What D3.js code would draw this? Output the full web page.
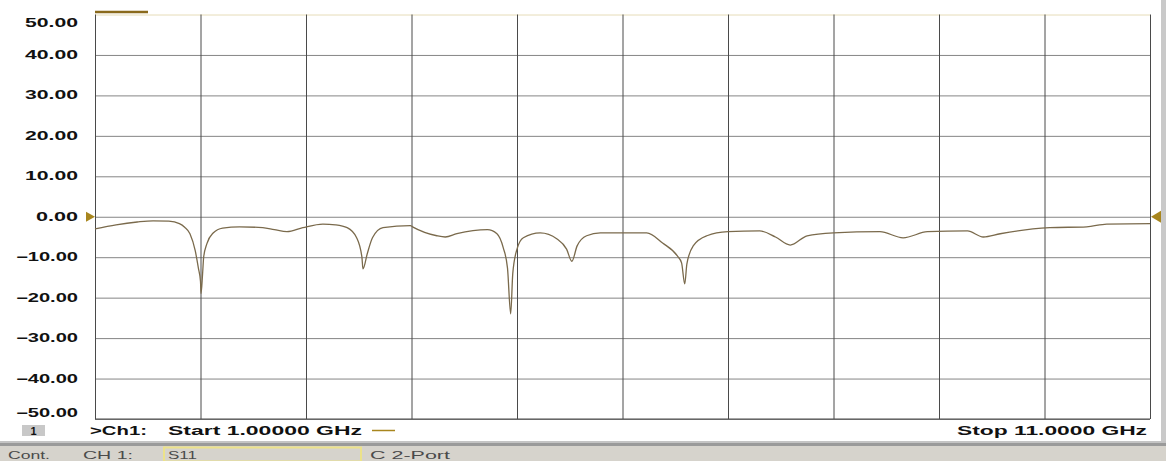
<!DOCTYPE html>
<html>
<head>
<meta charset="utf-8">
<script src="https://cdn.jsdelivr.net/npm/d3@7"></script>
<style>
  html, body { margin: 0; padding: 0; background: #ffffff; }
  svg { display: block; }
  text { font-family: "Liberation Sans", Arial, sans-serif; }
</style>
</head>
<body>
<svg id="chart" width="1166" height="461"></svg>
<script>
// ---- data ----
const freqGHz = [1.00, 1.20, 1.40, 1.55, 1.70, 1.80, 1.85, 1.90, 1.95, 1.98, 2.00, 2.005, 2.02, 2.03, 2.06, 2.12, 2.21, 2.37, 2.59, 2.70, 2.82, 2.97, 3.16, 3.28, 3.39, 3.48, 3.53, 3.54, 3.58, 3.63, 3.73, 3.99,
  4.01, 4.24, 4.32, 4.43, 4.72, 4.81, 4.87, 4.91, 4.94, 4.96, 5.00, 5.06, 5.22, 5.38, 5.47, 5.52, 5.57, 5.66, 5.79, 6.23, 6.38, 6.52, 6.56, 6.59, 6.61, 6.67, 6.80, 7.00,
  7.30, 7.45, 7.59, 7.75, 8.00, 8.44, 8.66, 8.89, 9.27, 9.42, 9.58, 9.89, 10.05, 10.40, 10.59, 11.00];
const s11dB = [-3.0, -2.0, -1.3, -1.0, -1.1, -1.7, -2.6, -4.2, -8.4, -12.7, -16.0, -19.0, -14.0, -10.0, -6.7, -4.0, -2.8, -2.5, -2.7, -3.2, -3.7, -2.7, -1.8, -2.0, -2.7, -5.2, -10.0, -12.9, -9.2, -5.2, -2.7, -2.2,
  -2.5, -4.7, -5.0, -4.2, -3.2, -4.2, -7.7, -12.7, -24.0, -14.0, -8.0, -5.2, -4.0, -5.5, -8.0, -11.0, -7.2, -4.7, -4.0, -4.0, -6.5, -9.7, -11.4, -16.6, -11.7, -7.2, -4.7, -3.7,
  -3.5, -5.0, -7.0, -4.7, -4.0, -3.7, -5.2, -3.7, -3.5, -5.0, -4.2, -3.0, -2.7, -2.5, -1.8, -1.7];
const yTicks = [50, 40, 30, 20, 10, 0, -10, -20, -30, -40, -50];
const xTicks = [1, 2, 3, 4, 5, 6, 7, 8, 9, 10, 11];
const startLabel = "Start  1.00000 GHz";
const stopLabel = "Stop  11.0000 GHz";

// ---- layout ----
const svg = d3.select("#chart");
const L = 95, R = 1150, T = 14.5, B = 419;
const x = d3.scaleLinear().domain([1, 11]).range([L, R]);
const y = d3.scaleLinear().domain([-50, 50]).range([B, T]);

// right grey strip
svg.append("rect").attr("x", 1161).attr("y", 0).attr("width", 5).attr("height", 442).attr("fill", "#c9c9c9");

// horizontal grid
const yAxis = d3.axisLeft(y).tickValues(yTicks).tickSize(-(R - L)).tickFormat("");
const gy = svg.append("g").attr("transform", `translate(${L},0)`).call(yAxis);
gy.select(".domain").remove();
gy.selectAll("line").attr("stroke", d => d === 50 ? "#e6dcb8" : "#858585").attr("stroke-width", 1);

// vertical grid
const xAxis = d3.axisBottom(x).tickValues(xTicks).tickSize(-(B - T)).tickFormat("");
const gx = svg.append("g").attr("transform", `translate(0,${B})`).call(xAxis);
gx.select(".domain").remove();
gx.selectAll("line").attr("stroke", "#4a4a4a").attr("stroke-width", 1);
svg.append("line").attr("x1", L).attr("x2", R).attr("y1", B).attr("y2", B).attr("stroke", "#4a4a4a");

// y tick labels (stretched text)
svg.append("g").selectAll("text").data(yTicks).join("text")
  .attr("x", 78).attr("y", d => d === 50 ? 27 : (d === -50 ? 417 : y(d) + 4))
  .attr("text-anchor", "end")
  .attr("font-size", 12).attr("font-weight", "bold").attr("fill", "#111")
  .attr("textLength", d => d < 0 ? 62 : (d === 0 ? 42 : 53))
  .attr("lengthAdjust", "spacingAndGlyphs")
  .text(d => d3.format(".2f")(d));

// trace legend segment at top
svg.append("line").attr("x1", L).attr("x2", 148).attr("y1", 12).attr("y2", 12).attr("stroke", "#8a6a1c").attr("stroke-width", 2.5);

// trace
const pts = freqGHz.map((f, i) => [f, s11dB[i]]);
const line = d3.line().x(d => x(d[0])).y(d => y(d[1])).curve(d3.curveMonotoneX);
svg.append("path").datum(pts).attr("d", line)
  .attr("fill", "none").attr("stroke", "#7a6a4c").attr("stroke-width", 1.3).attr("stroke-linejoin", "round");

// reference markers at 0 dB
const y0 = y(0);
svg.append("path").attr("d", `M${L - 9},${y0 - 5} L${L},${y0} L${L - 9},${y0 + 5} Z`).attr("fill", "#a8861e");
svg.append("path").attr("d", `M${R + 11},${y0 - 6} L${R + 1},${y0} L${R + 11},${y0 + 6} Z`).attr("fill", "#a8861e");

// bottom info row
svg.append("rect").attr("x", 22).attr("y", 425).attr("width", 23).attr("height", 11).attr("fill", "#c8c8c8");
svg.append("text").attr("x", 33.5).attr("y", 434.5).attr("text-anchor", "middle").attr("font-size", 11).attr("font-weight", "bold").attr("fill", "#111").text("1");
svg.append("text").attr("x", 90).attr("y", 435).attr("font-size", 12).attr("font-weight", "bold").attr("fill", "#111")
  .attr("textLength", 57).attr("lengthAdjust", "spacingAndGlyphs").text(">Ch1:");
svg.append("text").attr("x", 168).attr("y", 435).attr("font-size", 12).attr("font-weight", "bold").attr("fill", "#111")
  .attr("textLength", 194).attr("lengthAdjust", "spacingAndGlyphs").text(startLabel);
svg.append("line").attr("x1", 372).attr("x2", 395).attr("y1", 430.5).attr("y2", 430.5).attr("stroke", "#a8861e").attr("stroke-width", 1.5);
svg.append("text").attr("x", 957).attr("y", 435).attr("font-size", 12).attr("font-weight", "bold").attr("fill", "#111")
  .attr("textLength", 190).attr("lengthAdjust", "spacingAndGlyphs").text(stopLabel);

// separator + status bar
svg.append("rect").attr("x", 0).attr("y", 441).attr("width", 1166).attr("height", 2).attr("fill", "#c4c4c4");
svg.append("rect").attr("x", 0).attr("y", 443).attr("width", 1166).attr("height", 3).attr("fill", "#9a9a9a");
svg.append("rect").attr("x", 0).attr("y", 446).attr("width", 1166).attr("height", 15).attr("fill", "#d6d3cc");
svg.append("rect").attr("x", 164).attr("y", 447.5).attr("width", 197).attr("height", 14).attr("fill", "#d6d3cc").attr("stroke", "#ece28a").attr("stroke-width", 2);
const st = [["Cont.", 8, 42], ["CH 1:", 83, 50], ["S11", 168, 29], ["C  2-Port", 370, 80]];
svg.append("g").selectAll("text").data(st).join("text")
  .attr("x", d => d[1]).attr("y", 458.5).attr("font-size", 11).attr("fill", "#4a4a4a")
  .attr("textLength", d => d[2]).attr("lengthAdjust", "spacingAndGlyphs").text(d => d[0]);
</script>
</body>
</html>
